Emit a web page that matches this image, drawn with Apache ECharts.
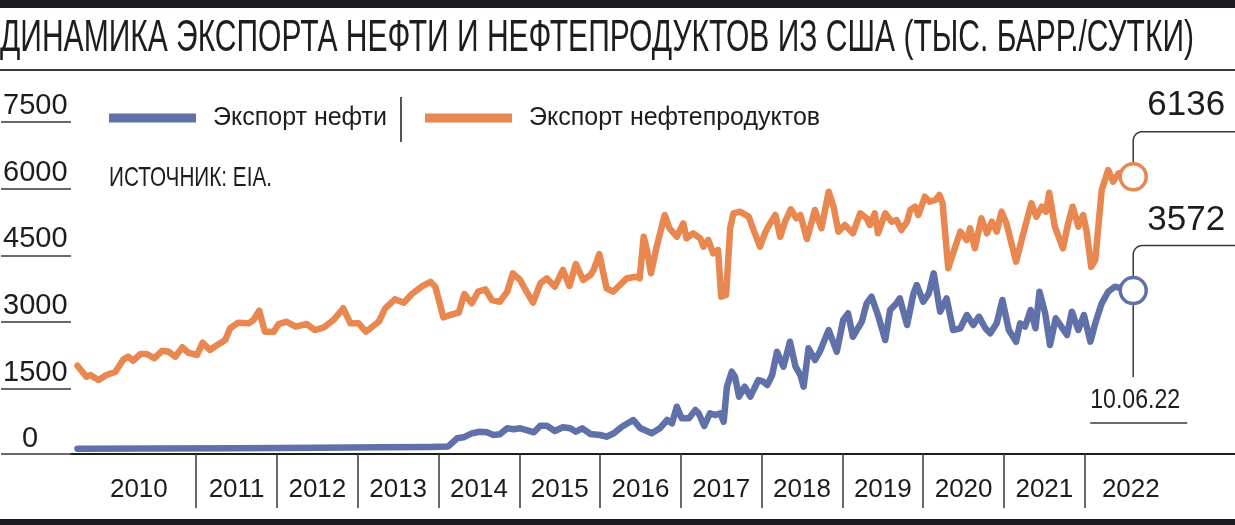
<!DOCTYPE html>
<html><head><meta charset="utf-8">
<script src="https://cdn.jsdelivr.net/npm/echarts@6/dist/echarts.min.js"></script>
<style>html,body{margin:0;padding:0;background:#fff}#c{width:1235px;height:525px}</style>
</head><body><div id="c"></div>
<script>
const title = 'ДИНАМИКА ЭКСПОРТА НЕФТИ И НЕФТЕПРОДУКТОВ ИЗ США (ТЫС. БАРР./СУТКИ)';
const seriesNames = ['Экспорт нефти', 'Экспорт нефтепродуктов'];
const sourceNote = 'ИСТОЧНИК: EIA.';
const lastDateLabel = '10.06.22';
const yearLabels = ['2010','2011','2012','2013','2014','2015','2016','2017','2018','2019','2020','2021','2022'];
const yTickValues = [0, 1500, 3000, 4500, 6000, 7500];

// [fractional year, thousand barrels per day]
const crudeExports = [
[2009.53,10],[2010.5,15],[2011.5,20],[2012.5,30],[2013.3,40],[2013.9,50],[2014.12,60],[2014.23,243],[2014.31,266],[2014.41,356],[2014.51,392],[2014.60,378],[2014.68,318],[2014.76,333],[2014.85,469],[2014.93,446],[2015.01,469],[2015.09,430],[2015.18,378],[2015.26,527],[2015.34,527],[2015.44,408],[2015.54,491],[2015.63,469],[2015.70,392],[2015.78,469],[2015.88,340],[2016.00,318],[2016.08,279],[2016.17,356],[2016.27,505],[2016.41,656],[2016.50,469],[2016.64,356],[2016.74,469],[2016.83,656],[2016.89,581],[2016.95,955],[2017.01,694],[2017.10,694],[2017.18,881],[2017.22,807],[2017.29,520],[2017.36,807],[2017.42,768],[2017.49,807],[2017.53,617],[2017.57,1406],[2017.63,1744],[2017.67,1631],[2017.72,1181],[2017.79,1406],[2017.86,1181],[2017.96,1557],[2018.02,1519],[2018.07,1444],[2018.13,1669],[2018.19,2194],[2018.27,1856],[2018.35,2420],[2018.42,1856],[2018.48,1669],[2018.52,1406],[2018.58,2271],[2018.66,2007],[2018.72,2194],[2018.83,2683],[2018.93,2194],[2019.01,2909],[2019.07,3060],[2019.13,2532],[2019.24,2870],[2019.30,3285],[2019.36,3434],[2019.44,3021],[2019.53,2458],[2019.59,3134],[2019.67,3285],[2019.71,3397],[2019.80,2796],[2019.88,3510],[2019.92,3697],[2020.00,3321],[2020.07,3510],[2020.13,3961],[2020.21,3096],[2020.29,3397],[2020.37,2683],[2020.46,2722],[2020.54,3021],[2020.62,2796],[2020.69,2983],[2020.77,2722],[2020.83,2609],[2020.91,2834],[2020.98,3359],[2021.06,2683],[2021.15,2420],[2021.20,2834],[2021.26,2758],[2021.33,3134],[2021.39,2722],[2021.44,3546],[2021.51,3060],[2021.57,2345],[2021.64,2947],[2021.71,2758],[2021.78,2571],[2021.84,3096],[2021.92,2683],[2021.99,3021],[2022.07,2420],[2022.13,2834],[2022.21,3285],[2022.29,3546],[2022.37,3659],[2022.46,3623],[2022.60,3572]
];
const productExports = [
[2009.53,1879],[2009.64,1631],[2009.69,1669],[2009.79,1557],[2009.89,1669],[2010.00,1744],[2010.10,2023],[2010.16,2082],[2010.22,1992],[2010.31,2143],[2010.39,2143],[2010.48,2046],[2010.58,2217],[2010.66,2194],[2010.74,2082],[2010.83,2294],[2010.90,2172],[2011.01,2120],[2011.08,2397],[2011.17,2233],[2011.26,2345],[2011.36,2458],[2011.42,2722],[2011.52,2848],[2011.65,2834],[2011.71,2909],[2011.78,3118],[2011.85,2645],[2011.96,2645],[2012.02,2818],[2012.12,2870],[2012.23,2758],[2012.37,2818],[2012.47,2683],[2012.58,2744],[2012.70,2909],[2012.82,3172],[2012.91,2834],[2013.01,2834],[2013.10,2645],[2013.26,2870],[2013.34,3172],[2013.46,3375],[2013.57,3298],[2013.67,3494],[2013.79,3659],[2013.90,3771],[2013.96,3659],[2014.06,2969],[2014.14,3021],[2014.25,3073],[2014.32,3494],[2014.41,3285],[2014.49,3546],[2014.58,3600],[2014.66,3359],[2014.76,3321],[2014.85,3546],[2014.92,3961],[2015.01,3810],[2015.09,3546],[2015.17,3298],[2015.26,3735],[2015.34,3848],[2015.44,3659],[2015.54,4035],[2015.62,3675],[2015.70,4170],[2015.79,3810],[2015.88,3922],[2015.92,4035],[2015.99,4396],[2016.08,3623],[2016.16,3546],[2016.33,3848],[2016.45,3884],[2016.49,3848],[2016.54,4785],[2016.58,4486],[2016.63,3961],[2016.70,4560],[2016.80,5274],[2016.86,4975],[2016.95,4785],[2017.03,5087],[2017.07,4749],[2017.15,4862],[2017.24,4749],[2017.28,4560],[2017.34,4711],[2017.40,4411],[2017.46,4486],[2017.50,3434],[2017.56,3472],[2017.61,4975],[2017.65,5312],[2017.73,5349],[2017.84,5236],[2017.90,4936],[2017.98,4560],[2018.04,4862],[2018.08,5011],[2018.17,5274],[2018.23,4785],[2018.29,5123],[2018.36,5403],[2018.43,5200],[2018.48,5274],[2018.56,4733],[2018.66,5387],[2018.74,4975],[2018.83,5799],[2018.89,5461],[2018.95,4898],[2019.03,5049],[2019.13,4862],[2019.22,5312],[2019.30,5200],[2019.34,5049],[2019.40,5312],[2019.44,4862],[2019.53,5312],[2019.61,5123],[2019.67,5161],[2019.73,4936],[2019.80,5123],[2019.84,5387],[2019.90,5461],[2019.94,5274],[2020.02,5686],[2020.08,5574],[2020.15,5612],[2020.20,5725],[2020.24,5538],[2020.31,4073],[2020.37,4411],[2020.46,4898],[2020.54,4711],[2020.58,4975],[2020.64,4524],[2020.72,5200],[2020.79,4862],[2020.85,5123],[2020.91,4898],[2020.97,5349],[2021.03,5087],[2021.15,4222],[2021.24,4862],[2021.34,5538],[2021.40,5236],[2021.47,5461],[2021.52,5349],[2021.56,5777],[2021.63,5011],[2021.73,4524],[2021.79,5049],[2021.85,5461],[2021.92,5011],[2021.98,5274],[2022.02,4936],[2022.08,4109],[2022.13,4260],[2022.21,5837],[2022.29,6288],[2022.35,6024],[2022.42,6214],[2022.60,6136]
];

const BLUE = '#6071a9', ORANGE = '#e8874f', INK = '#1d1d1f', RULE = '#3a3a3a', BAR = '#1c1c20';
const SANS = '"Liberation Sans", Arial, Helvetica, sans-serif';

const W = 1235, H = 525;
const Y_MIN = -110, Y_MAX = 8000, GRID_TOP = 94, GRID_BOTTOM = 71, GRID_LEFT = 71;
const unitsPerPx = (Y_MAX - Y_MIN) / (H - GRID_TOP - GRID_BOTTOM);
const underlineValues = [Y_MIN].concat(yTickValues.slice(1).map(v => v - 6 * unitsPerPx));
const firstYear = +yearLabels[0];
const yearBoundaries = yearLabels.slice(1).map(Number);
const yearLabelPositions = yearLabels.map((y, i) => i === 0 ? firstYear + 0.29 : (i === yearLabels.length - 1 ? +y + 0.57 : +y + 0.5));

const measureCtx = document.createElement('canvas').getContext('2d');
function fitScale(text, font, width) { measureCtx.font = font; return width / measureCtx.measureText(text).width; }

const chart = echarts.init(document.getElementById('c'), null, { renderer: 'canvas', width: W, height: H });

function markPointFor(data, color, offsetY) {
  const last = data[data.length - 1];
  return {
    symbol: 'circle', symbolSize: 26, silent: true,
    itemStyle: { color: '#fff', borderColor: color, borderWidth: 3.5 },
    label: {
      show: true, position: 'inside', align: 'right', verticalAlign: 'middle',
      offset: [92, offsetY], fontFamily: SANS, fontSize: 35, color: INK,
      formatter: p => String(p.value)
    },
    data: [{ coord: last, value: last[1] }]
  };
}

const legendCommon = {
  icon: 'rect', itemWidth: 87, itemHeight: 9, top: 100, padding: 0, selectedMode: false,
  textStyle: { fontFamily: SANS, fontSize: 25, color: INK, padding: [0, 0, 0, 12], lineHeight: 36 }
};

chart.setOption({
  animation: false,
  backgroundColor: '#fff',
  grid: { left: GRID_LEFT, right: 0, top: GRID_TOP, bottom: GRID_BOTTOM, outerBoundsMode: 'none' },
  legend: [
    Object.assign({ data: [seriesNames[0]], left: 109 }, legendCommon),
    Object.assign({ data: [seriesNames[1]], left: 425 }, legendCommon)
  ],
  xAxis: {
    type: 'value', min: 2009.45, max: 2023.86,
    axisLine: { show: true, onZero: false, lineStyle: { color: INK, width: 2 } },
    splitLine: { show: false },
    axisTick: { show: true, customValues: yearBoundaries, length: 54, lineStyle: { color: RULE, width: 1.5 } },
    axisLabel: {
      customValues: yearLabelPositions,
      formatter: v => yearLabels[Math.floor(v + 1e-6) - firstYear],
      fontFamily: SANS, fontSize: 26, color: INK, margin: 36, verticalAlign: 'middle'
    }
  },
  yAxis: {
    type: 'value', min: Y_MIN, max: Y_MAX,
    axisLine: { show: false }, splitLine: { show: false },
    axisTick: { show: true, customValues: underlineValues, length: 70, lineStyle: { color: RULE, width: 1.5 } },
    axisLabel: {
      customValues: yTickValues, align: 'left', margin: 68, verticalAlign: 'bottom', lineHeight: 20,
      fontFamily: SANS, fontSize: 29, color: INK,
      formatter: v => v === 0 ? '{z|0}' : String(v),
      rich: { z: { fontFamily: SANS, fontSize: 29, color: INK, lineHeight: 20, padding: [0, 0, 0, 19] } }
    }
  },
  series: [
    {
      name: seriesNames[0], type: 'line', data: crudeExports, symbol: 'none', showSymbol: false, silent: true,
      color: BLUE, itemStyle: { color: BLUE },
      lineStyle: { color: BLUE, width: 6.5, cap: 'round', join: 'round' },
      markPoint: markPointFor(crudeExports, BLUE, -70)
    },
    {
      name: seriesNames[1], type: 'line', data: productExports, symbol: 'none', showSymbol: false, silent: true,
      color: ORANGE, itemStyle: { color: ORANGE },
      lineStyle: { color: ORANGE, width: 6.5, cap: 'round', join: 'round' },
      markPoint: markPointFor(productExports, ORANGE, -71)
    }
  ]
});

// Leader lines anchored to the last data points
const pc = chart.convertToPixel({ seriesIndex: 0 }, crudeExports[crudeExports.length - 1]);
const po = chart.convertToPixel({ seriesIndex: 1 }, productExports[productExports.length - 1]);
const R = 9, rr = 14;
function arcPts(cx, cy, r, a0, a1, n) {
  const pts = [];
  for (let i = 0; i <= n; i++) {
    const a = (a0 + (a1 - a0) * i / n) * Math.PI / 180;
    pts.push([cx + r * Math.cos(a), cy + r * Math.sin(a)]);
  }
  return pts;
}
const hyO = po[1] - 45, hyC = pc[1] - 45;
const leaderO = [[po[0], po[1] - rr]].concat(arcPts(po[0] + R, hyO + R, R, 180, 270, 10), [[W, hyO]]);
const leaderC = [[W, hyC]].concat(arcPts(pc[0] + R, hyC + R, R, 270, 180, 10), [[pc[0], pc[1] - rr]]);
const leaderDate = [[pc[0], pc[1] + rr], [pc[0], 377]];

const titleFont = `44px ${SANS}`;
const noteFont = `28px ${SANS}`;
const dateFont = `28px ${SANS}`;

function txt(text, font, x, y, align, scaleX) {
  return {
    type: 'text', x: x, y: y, scaleX: scaleX || 1, silent: true,
    style: { text: text, font: font, fill: INK, align: align, textAlign: align, verticalAlign: 'middle', textVerticalAlign: 'middle' }
  };
}
function pline(points) {
  return { type: 'polyline', silent: true, shape: { points: points }, style: { stroke: RULE, lineWidth: 1.5, fill: null } };
}

chart.setOption({
  graphic: [
    { type: 'rect', silent: true, shape: { x: 0, y: 0, width: W, height: 8 }, style: { fill: BAR } },
    txt(title, titleFont, 0, 39, 'left', fitScale(title, titleFont, 1194)),
    { type: 'rect', silent: true, shape: { x: 0, y: 69, width: W, height: 2 }, style: { fill: RULE } },
    { type: 'line', silent: true, shape: { x1: 401, y1: 97, x2: 401, y2: 142 }, style: { stroke: INK, lineWidth: 1.5 } },
    txt(sourceNote, noteFont, 109, 178, 'left', fitScale(sourceNote, noteFont, 163)),
    pline(leaderO),
    pline(leaderC),
    pline(leaderDate),
    txt(lastDateLabel, dateFont, pc[0] + 2, 400, 'center', fitScale(lastDateLabel, dateFont, 90)),
    { type: 'line', silent: true, shape: { x1: pc[0] - 43, y1: 423, x2: pc[0] + 54, y2: 423 }, style: { stroke: RULE, lineWidth: 1.5 } },
    { type: 'rect', silent: true, shape: { x: 0, y: 519, width: W, height: 6 }, style: { fill: BAR } }
  ]
});
</script>
</body></html>
